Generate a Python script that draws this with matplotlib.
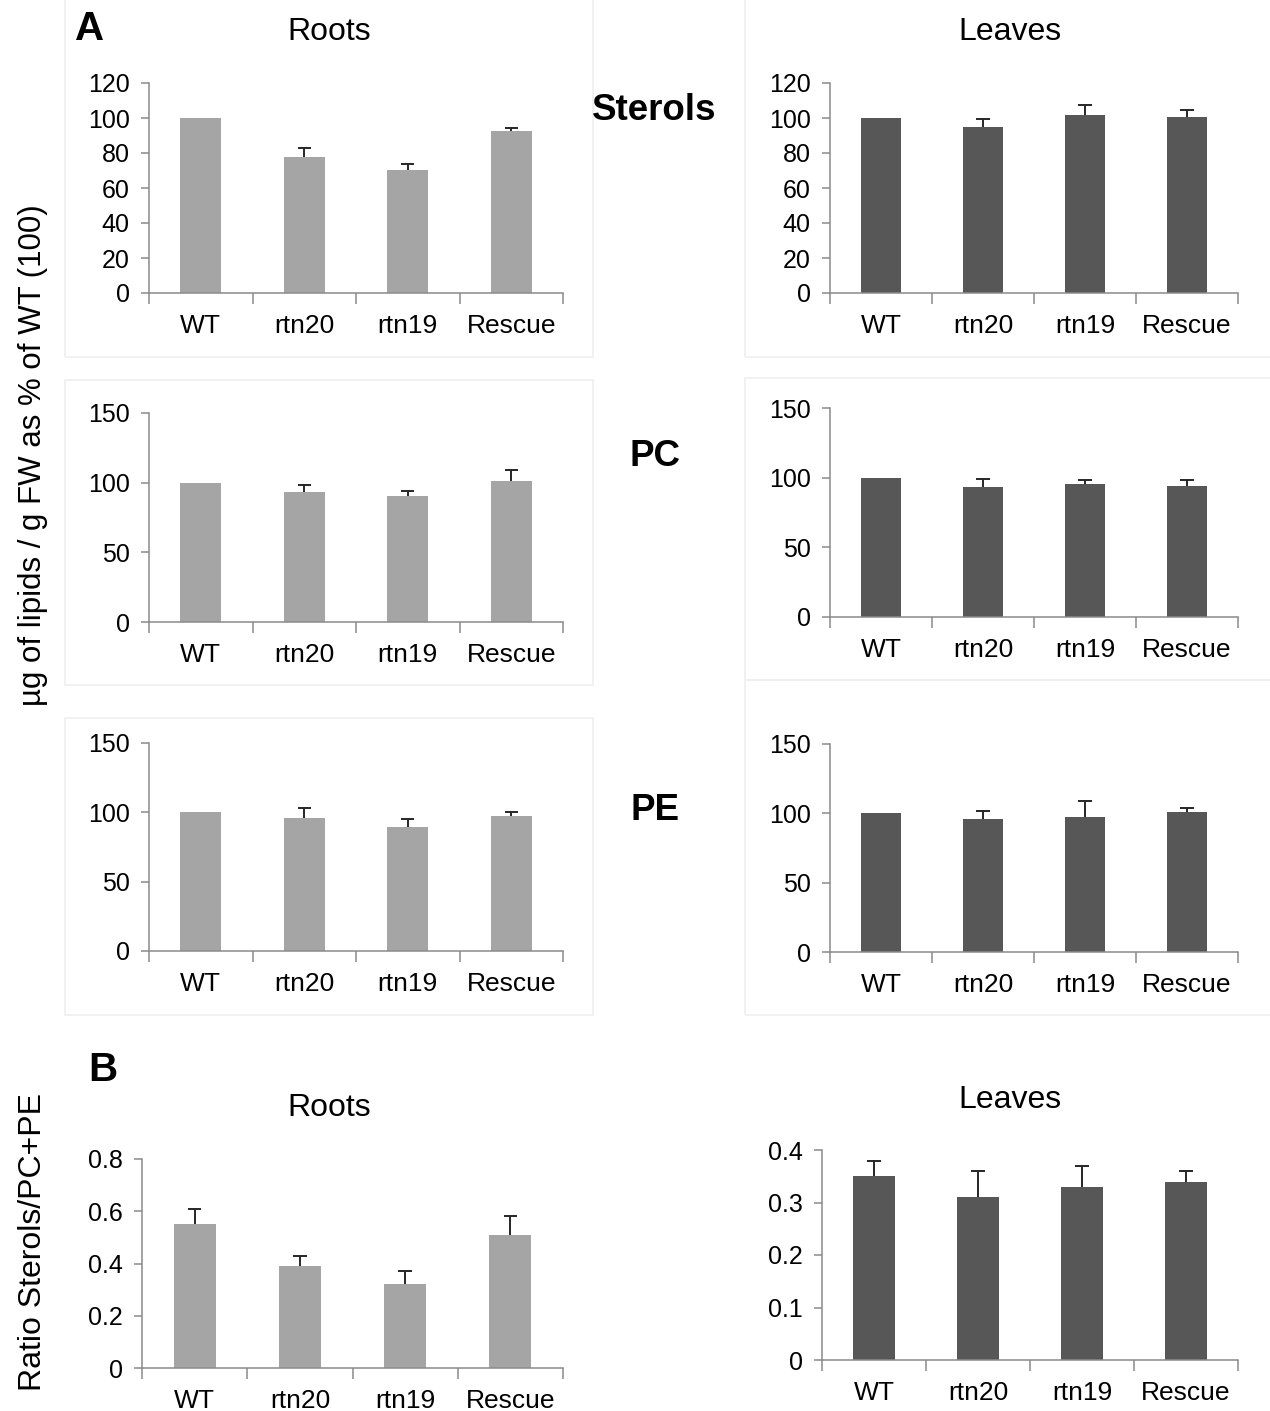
import numpy as np
import matplotlib
matplotlib.use('Agg')
import matplotlib.pyplot as plt
from matplotlib.patches import Rectangle

plt.rcParams['font.family'] = ['Liberation Sans', 'DejaVu Sans']

W, H = 1270, 1411

groups = ['WT', 'rtn20', 'rtn19', 'Rescue']

# values (mean, upper error)
sterols_roots = [100, 77.5, 70.3, 92.8]
sterols_roots_err = [0, 5.6, 3.4, 1.6]
sterols_leaves = [100, 94.8, 101.6, 100.7]
sterols_leaves_err = [0, 4.8, 5.6, 3.6]

pc_roots = [100, 93.2, 90.4, 101.1]
pc_roots_err = [0, 5.0, 3.3, 8.0]
pc_leaves = [100, 93.5, 95.5, 94.0]
pc_leaves_err = [0, 5.5, 3.0, 4.5]

pe_roots = [100, 96.0, 89.5, 97.5]
pe_roots_err = [0, 7.0, 5.5, 3.0]
pe_leaves = [100, 95.8, 97.4, 100.8]
pe_leaves_err = [0, 5.7, 11.6, 3.4]

ratio_roots = [0.55, 0.39, 0.32, 0.51]
ratio_roots_err = [0.06, 0.04, 0.05, 0.07]
ratio_leaves = [0.35, 0.31, 0.33, 0.34]
ratio_leaves_err = [0.03, 0.05, 0.04, 0.02]

root_color = '#a5a5a5'
leaf_color = '#575757'
axis_color = '#8a8a8a'

fig = plt.figure(figsize=(W / 100, H / 100), dpi=100)


def px_axes(x0, y_top, x1, y_bot):
    return fig.add_axes([x0 / W, 1 - y_bot / H, (x1 - x0) / W, (y_bot - y_top) / H])


def bar_panel(rect, vals, errs, color, ymax, yticks, fmt):
    ax = px_axes(*rect)
    x = np.arange(len(groups))
    vals = np.array(vals)
    errs = np.array(errs)
    ax.bar(x, vals, width=0.4, color=color, zorder=2)
    # upper-only error bars, like the excel original
    m = errs > 0
    ax.vlines(x[m], vals[m], vals[m] + errs[m], color='#262626', lw=1.4, zorder=3)
    ax.hlines(vals[m] + errs[m], x[m] - 0.065, x[m] + 0.065, color='#262626', lw=1.4, zorder=3)
    ax.set_xlim(-0.5, len(groups) - 0.5)
    ax.set_ylim(0, ymax)
    ax.set_yticks(yticks)
    ax.set_yticklabels([fmt(v) for v in yticks])
    ax.set_xticks(x)
    ax.set_xticklabels(groups)
    ax.set_xticks(np.arange(len(groups) + 1) - 0.5, minor=True)
    for s in ['top', 'right']:
        ax.spines[s].set_visible(False)
    for s in ['left', 'bottom']:
        ax.spines[s].set_color(axis_color)
        ax.spines[s].set_linewidth(1.1)
    ax.tick_params(axis='y', which='major', length=6, width=1.1, color=axis_color,
                   labelsize=18, pad=8)
    ax.tick_params(axis='x', which='major', length=0, labelsize=19, pad=15)
    ax.tick_params(axis='x', which='minor', length=8, width=1.1, color=axis_color)
    ax.tick_params(axis='y', which='minor', length=0)
    ax.patch.set_alpha(0)
    return ax


def intf(v):
    return '%d' % v


def dec(v):
    return '0' if v == 0 else ('%.1f' % v)


# faint chart-area borders
border = '#efefef'
for (x0, y0, x1, y1) in [(65, -2, 593, 357), (65, 380, 593, 685), (65, 718, 593, 1015),
                         (745, -2, 1272, 357), (745, 378, 1272, 680), (745, 680, 1272, 1015)]:
    fig.patches.append(Rectangle((x0 / W, 1 - y1 / H), (x1 - x0) / W, (y1 - y0) / H,
                                 transform=fig.transFigure, fill=False,
                                 edgecolor=border, linewidth=1.2, zorder=0))

bar_panel((149, 83, 563, 293), sterols_roots, sterols_roots_err, root_color,
          120, np.arange(0, 121, 20), intf)
bar_panel((830, 83, 1238, 293), sterols_leaves, sterols_leaves_err, leaf_color,
          120, np.arange(0, 121, 20), intf)
bar_panel((149, 413, 563, 622), pc_roots, pc_roots_err, root_color,
          150, [0, 50, 100, 150], intf)
bar_panel((830, 408, 1238, 617), pc_leaves, pc_leaves_err, leaf_color,
          150, [0, 50, 100, 150], intf)
bar_panel((149, 743, 563, 951), pe_roots, pe_roots_err, root_color,
          150, [0, 50, 100, 150], intf)
bar_panel((830, 744, 1238, 952), pe_leaves, pe_leaves_err, leaf_color,
          150, [0, 50, 100, 150], intf)
bar_panel((142, 1159, 563, 1368), ratio_roots, ratio_roots_err, root_color,
          0.8, [0, 0.2, 0.4, 0.6, 0.8], dec)
bar_panel((822, 1150, 1238, 1360), ratio_leaves, ratio_leaves_err, leaf_color,
          0.4, [0, 0.1, 0.2, 0.3, 0.4], dec)


def ftext(x, y, s, **kw):
    fig.text(x / W, 1 - y / H, s, ha='center', va='center', **kw)


ftext(329, 32, 'Roots', fontsize=23)
ftext(1010, 32, 'Leaves', fontsize=23)
ftext(329, 1108, 'Roots', fontsize=23)
ftext(1010, 1100, 'Leaves', fontsize=23)
ftext(90, 29, 'A', fontsize=29, fontweight='bold')
ftext(103, 1070, 'B', fontsize=29, fontweight='bold')
ftext(654, 110, 'Sterols', fontsize=26.5, fontweight='bold')
ftext(655, 457, 'PC', fontsize=26.5, fontweight='bold')
ftext(655, 810, 'PE', fontsize=26.5, fontweight='bold')
ftext(33, 455, 'µg of lipids / g FW as % of WT (100)', fontsize=22.5, rotation=90)
ftext(33, 1242, 'Ratio Sterols/PC+PE', fontsize=23, rotation=90)

fig.savefig('out.png', dpi=100, facecolor='white')
